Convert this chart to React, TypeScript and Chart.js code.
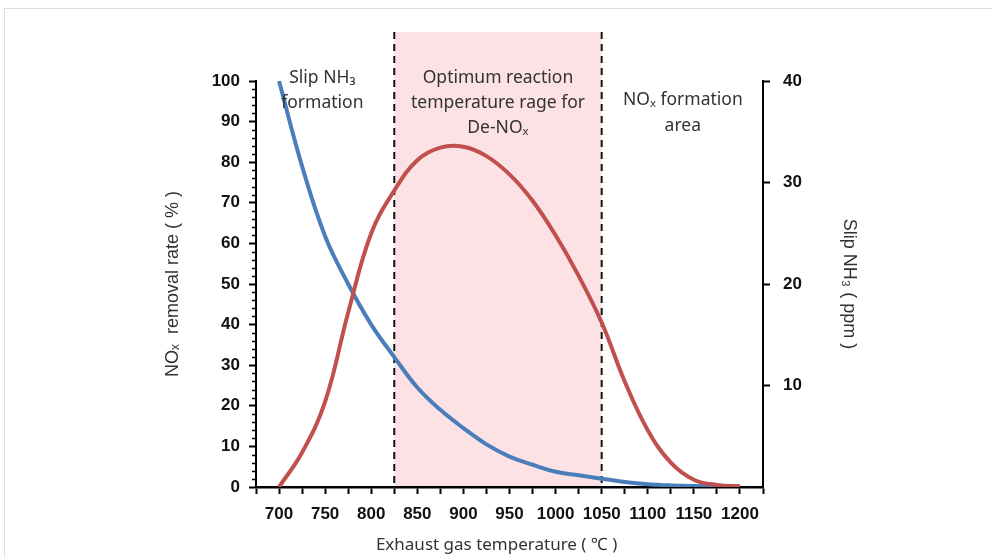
import React, { useEffect, useRef } from "react";
import { Chart, registerables } from "chart.js";

Chart.register(...registerables);

// ---- data ----
const temperatures = [700, 725, 750, 775, 800, 825, 850, 875, 900, 925, 950, 975, 1000, 1025, 1050, 1075, 1100, 1125, 1150, 1175, 1200];
const noxRemovalRate = [0, 8.5, 21, 43, 62.5, 73, 80.5, 83.6, 83.8, 81.5, 77, 70.5, 62, 52, 40.5, 26, 14, 6, 1.8, 0.5, 0.2];
const slipNH3ppm = [40, 31.6, 24.7, 20, 16, 12.8, 9.8, 7.6, 5.8, 4.2, 3.0, 2.2, 1.5, 1.15, 0.82, 0.5, 0.28, 0.16, 0.1, 0.07, 0.05];

const xTickMin = 675;
const xTickMax = 1225;
const xTickStep = 25;
const xLabelStep = 50;
const leftMax = 100;
const leftStep = 10;
const leftMinorStep = 2;
const rightMax = 40;
const rightStep = 10;

const bandStart = 825;
const bandEnd = 1050;

const annotationLeft = ["Slip NH\u2083", "formation"];
const annotationMiddle = ["Optimum reaction", "temperature rage for", "De-NO\u2093"];
const annotationRight = ["NO\u2093 formation", "area"];
const leftTitle = "NO\u2093  removal rate ( % )";
const rightTitle = "Slip NH\u2083 ( ppm )";
const xTitle = "Exhaust gas temperature ( \u2103 )";

const TEXT_FONT = "'Noto Sans', 'Open Sans', 'DejaVu Sans', sans-serif";
const ARIAL_FONT = "'Liberation Sans', Arial, 'DejaVu Sans', sans-serif";

const overlayPlugin = {
  id: "overlay",
  beforeDatasetsDraw(chart: any) {
    const { ctx, chartArea, scales } = chart;
    const x0 = scales.x.getPixelForValue(bandStart);
    const x1 = scales.x.getPixelForValue(bandEnd);
    const top = chartArea.top - 49;
    const bottom = chartArea.bottom - 1;
    ctx.save();
    ctx.fillStyle = "rgb(253,226,229)";
    ctx.fillRect(x0, top, x1 - x0, bottom - top);
    ctx.setLineDash([7, 5]);
    ctx.strokeStyle = "#111";
    ctx.lineWidth = 2;
    [x0, x1].forEach((px) => {
      ctx.beginPath();
      ctx.moveTo(px, top);
      ctx.lineTo(px, bottom);
      ctx.stroke();
    });
    ctx.restore();
  },
  afterDraw(chart: any) {
    const { ctx, chartArea, scales } = chart;
    ctx.save();
    // minor ticks on left axis
    ctx.strokeStyle = "#000";
    ctx.lineWidth = 1.5;
    for (let v = 0; v <= leftMax; v += leftMinorStep) {
      if (v % leftStep === 0) continue;
      const py = Math.round(scales.y.getPixelForValue(v)) + 0.5;
      ctx.beginPath();
      ctx.moveTo(chartArea.left, py);
      ctx.lineTo(chartArea.left - 4, py);
      ctx.stroke();
    }
    // annotations
    ctx.fillStyle = "#333";
    ctx.font = `17.5px ${TEXT_FONT}`;
    ctx.textAlign = "center";
    ctx.textBaseline = "middle";
    const lh = 25;
    const t = chartArea.top;
    const xl = scales.x.getPixelForValue(747);
    annotationLeft.forEach((s, i) => ctx.fillText(s, xl, t - 3 + i * lh));
    const xm = scales.x.getPixelForValue((bandStart + bandEnd) / 2);
    annotationMiddle.forEach((s, i) => ctx.fillText(s, xm, t - 3 + i * lh));
    const xr = scales.x.getPixelForValue(1138);
    annotationRight.forEach((s, i) => ctx.fillText(s, xr, t + 19 + i * 26));
    // x title
    ctx.font = `17px ${TEXT_FONT}`;
    ctx.fillText(xTitle, scales.x.getPixelForValue(936), 545);
    ctx.restore();
  },
};

export default function App() {
  const ref = useRef<HTMLCanvasElement>(null);

  useEffect(() => {
    if (!ref.current) return;
    const tickFont = { family: ARIAL_FONT, size: 17, weight: "bold" as const };
    const chart = new Chart(ref.current, {
      type: "line",
      data: {
        datasets: [
          {
            label: "NOx removal rate",
            data: temperatures.map((t, i) => ({ x: t, y: noxRemovalRate[i] })),
            borderColor: "#C0504D",
            borderWidth: 4,
            pointRadius: 0,
            tension: 0.4,
            yAxisID: "y",
            fill: false,
          },
          {
            label: "Slip NH3",
            data: temperatures.map((t, i) => ({ x: t, y: slipNH3ppm[i] })),
            borderColor: "#4A7EBB",
            borderWidth: 4,
            pointRadius: 0,
            tension: 0.4,
            yAxisID: "y1",
            fill: false,
          },
        ],
      },
      options: {
        animation: false,
        responsive: false,
        maintainAspectRatio: false,
        layout: { padding: { top: 81, left: 156, right: 129, bottom: 20 } },
        plugins: { legend: { display: false }, tooltip: { enabled: false } },
        scales: {
          x: {
            type: "linear",
            min: xTickMin,
            max: xTickMax,
            afterFit: (s: any) => {
              s.height = 50;
            },
            ticks: {
              stepSize: xTickStep,
              autoSkip: false,
              maxRotation: 0,
              padding: 10,
              color: "#111",
              font: tickFont,
              callback: (v: any) => {
                const n = Number(v);
                return n % xLabelStep === 0 ? String(n) : "";
              },
            },
            grid: { drawOnChartArea: false, drawTicks: true, tickLength: 7, tickColor: "#000", tickWidth: 2 },
            border: { display: true, color: "#000", width: 2.5 },
          },
          y: {
            type: "linear",
            position: "left",
            min: 0,
            max: leftMax,
            afterFit: (s: any) => {
              s.width = 100;
            },
            ticks: { stepSize: leftStep, padding: 9, color: "#111", font: tickFont },
            grid: { drawOnChartArea: false, drawTicks: true, tickLength: 7, tickColor: "#000", tickWidth: 2 },
            border: { display: true, color: "#000", width: 2 },
            title: {
              display: true,
              text: leftTitle,
              color: "#333",
              font: { family: ARIAL_FONT, size: 18 },
              padding: { top: 6, bottom: 0 },
            },
          },
          y1: {
            type: "linear",
            position: "right",
            min: 0,
            max: rightMax,
            afterFit: (s: any) => {
              s.width = 100;
            },
            ticks: {
              stepSize: rightStep,
              padding: 13,
              color: "#111",
              font: tickFont,
              callback: (v: any) => (Number(v) === 0 ? "" : String(v)),
            },
            grid: {
              drawOnChartArea: false,
              drawTicks: true,
              tickLength: 7,
              tickColor: (c: any) => (c.tick && c.tick.value === 0 ? "rgba(0,0,0,0)" : "#000"),
              tickWidth: 2,
            },
            border: { display: true, color: "#000", width: 2 },
            title: {
              display: true,
              text: rightTitle,
              color: "#333",
              font: { family: ARIAL_FONT, size: 18 },
              padding: { top: 3, bottom: 0 },
            },
          },
        },
      },
      plugins: [overlayPlugin],
    } as any);
    return () => chart.destroy();
  }, []);

  return (
    <div style={{ position: "fixed", left: 0, top: 0, width: 992, height: 557, background: "#fff", overflow: "hidden" }}>
      <div
        style={{
          position: "absolute",
          left: 4,
          top: 8,
          width: 1000,
          height: 600,
          borderTop: "1px solid #dedede",
          borderLeft: "1px solid #dedede",
        }}
      />
      <canvas ref={ref} width={992} height={557} style={{ position: "absolute", left: 0, top: 0, width: 992, height: 557 }} />
    </div>
  );
}
